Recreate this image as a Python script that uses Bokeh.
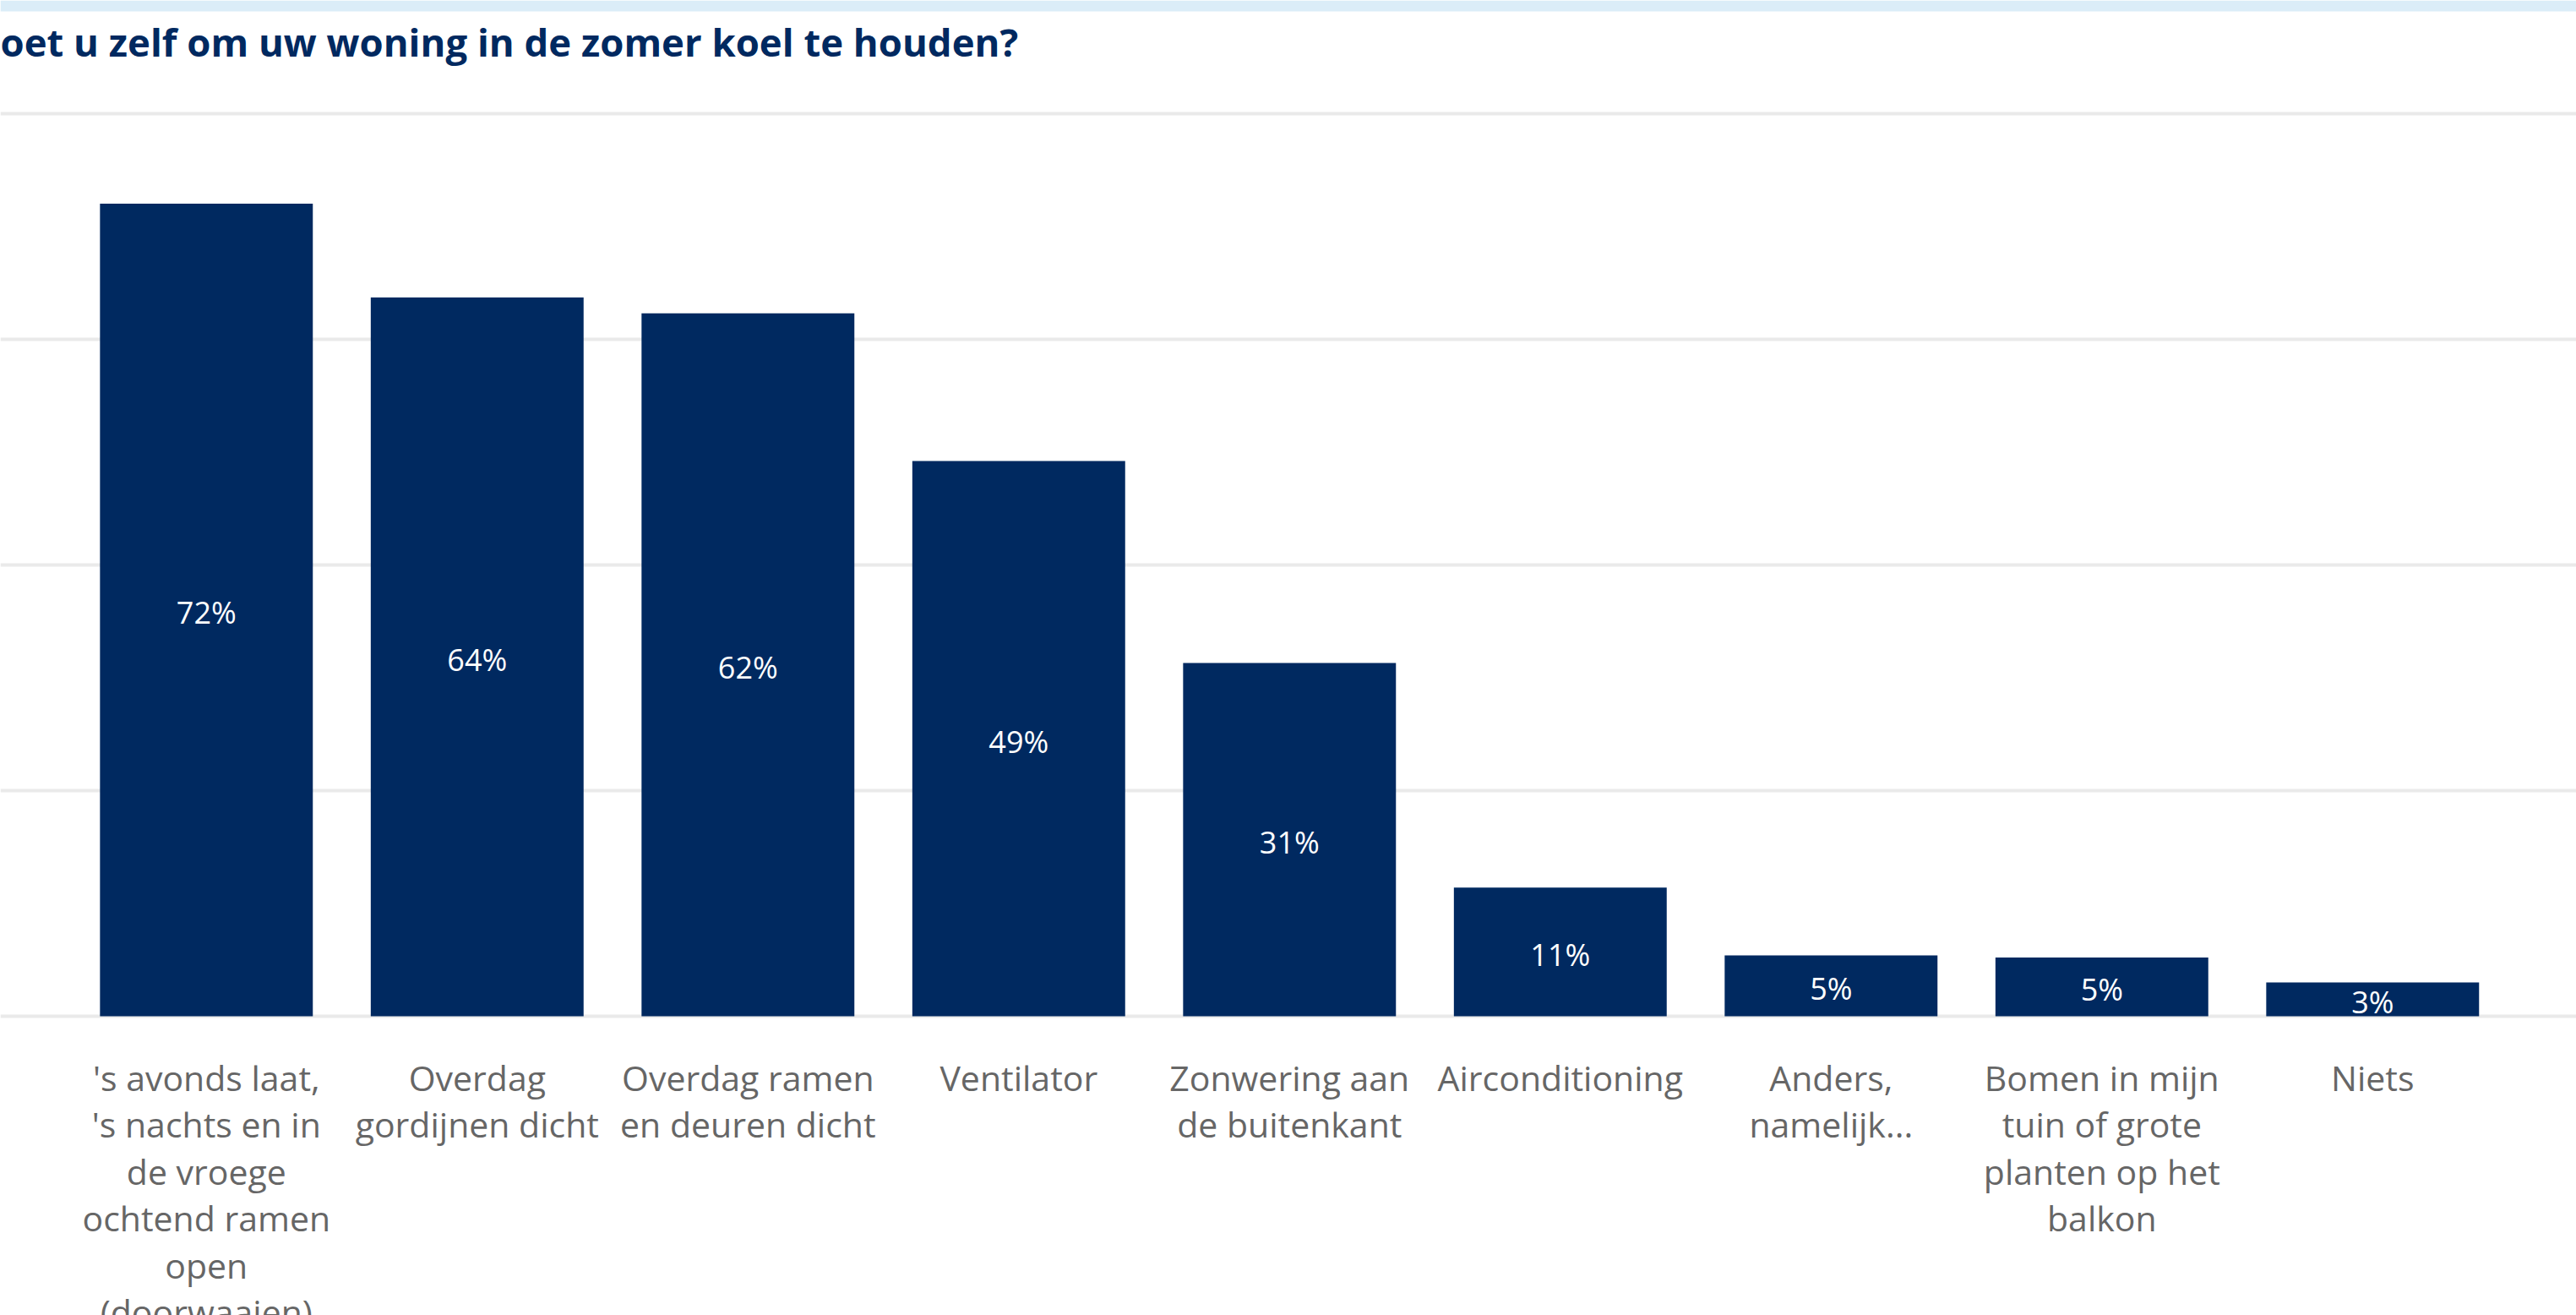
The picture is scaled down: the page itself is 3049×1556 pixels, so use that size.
from bokeh.plotting import figure
from bokeh.models import ColumnDataSource, Range1d, Grid, FixedTicker, BoxAnnotation, Label
from bokeh.core.properties import value
from bokeh.embed import file_html
from bokeh.resources import INLINE

# ---------------- data ----------------
title_text = "oet u zelf om uw woning in de zomer koel te houden?"

categories = [
    "'s avonds laat, 's nachts en in de vroege ochtend ramen open (doorwaaien)",
    "Overdag gordijnen dicht",
    "Overdag ramen en deuren dicht",
    "Ventilator",
    "Zonwering aan de buitenkant",
    "Airconditioning",
    "Anders, namelijk...",
    "Bomen in mijn tuin of grote planten op het balkon",
    "Niets",
]

tick_label_lines = [
    ["'s avonds laat,", "'s nachts en in", "de vroege", "ochtend ramen", "open", "(doorwaaien)"],
    ["Overdag", "gordijnen dicht"],
    ["Overdag ramen", "en deuren dicht"],
    ["Ventilator"],
    ["Zonwering aan", "de buitenkant"],
    ["Airconditioning"],
    ["Anders,", "namelijk..."],
    ["Bomen in mijn", "tuin of grote", "planten op het", "balkon"],
    ["Niets"],
]

percentages = [72.0, 63.7, 62.3, 49.2, 31.3, 11.4, 5.4, 5.2, 3.0]
grid_ticks = [0, 20, 40, 60, 80]

# ---------------- layout ----------------
W, H = 3049, 1556
PX_X = 320.5          # pixels per category
FIRST_CX = 243.8      # canvas x of first category centre
PX_Y = 13.3525        # pixels per percent
ZERO_CY = 1202.0      # canvas y of 0%

x_start = -FIRST_CX / PX_X
x_end = x_start + W / PX_X
y_end = ZERO_CY / PX_Y
y_start = y_end - H / PX_Y


def cx(px):
    return x_start + px / PX_X


def cy(py):
    return y_end - py / PX_Y


NAVY = "#002960"
FONT = value("Open Sans")

p = figure(
    width=W, height=H,
    x_range=Range1d(x_start, x_end), y_range=Range1d(y_start, y_end),
    x_axis_location=None, y_axis_location=None,
    toolbar_location=None, output_backend="svg",
    min_border=0, min_border_left=0, min_border_right=0,
    min_border_top=0, min_border_bottom=0,
)
p.outline_line_color = None
p.background_fill_color = "white"
p.border_fill_color = "white"

# remove default grids, add our own horizontal gridlines
p.center = [r for r in p.center if not isinstance(r, Grid)]
grid = Grid(dimension=1, ticker=FixedTicker(ticks=grid_ticks),
            grid_line_color="#EAEAEA", grid_line_width=4)
p.add_layout(grid)

# top band
p.add_layout(BoxAnnotation(top=y_end, bottom=cy(13), fill_color="#DBEDF8",
                           fill_alpha=1.0, line_color=None))

idx = list(range(len(categories)))

# bars
bar_src = ColumnDataSource(dict(x=idx, top=percentages, cat=categories))
p.vbar(x="x", top="top", width=0.786, source=bar_src,
       fill_color=NAVY, line_color=None)

# value labels inside bars
lab_src = ColumnDataSource(dict(
    x=idx,
    y=[v / 2 - 3.0 / PX_Y for v in percentages],
    text=[f"{round(v)}%" for v in percentages],
))
p.text(x="x", y="y", text="text", source=lab_src,
       text_font=FONT, text_font_size="36px", text_color="white",
       text_align="center", text_baseline="alphabetic")

# category labels (wrapped, one glyph row per line)
cx_list, cy_list, ct_list = [], [], []
for i, lines in enumerate(tick_label_lines):
    for k, line in enumerate(lines):
        cx_list.append(i)
        cy_list.append(cy(1274.5 + 55.4 * k))
        ct_list.append(line)
cat_src = ColumnDataSource(dict(x=cx_list, y=cy_list, text=ct_list))
p.text(x="x", y="y", text="text", source=cat_src,
       text_font=FONT, text_font_size="41px", text_color="#666666",
       text_align="center", text_baseline="alphabetic")

# title (left part cut off as in the original view)
p.add_layout(Label(x=cx(0), y=cy(48), text=title_text,
                   text_font="Open Sans", text_font_style="bold", text_font_size="45.5px",
                   text_color=NAVY, text_align="left", text_baseline="alphabetic"))

open("out.html", "w").write(file_html(p, INLINE, title="Koel houden"))
